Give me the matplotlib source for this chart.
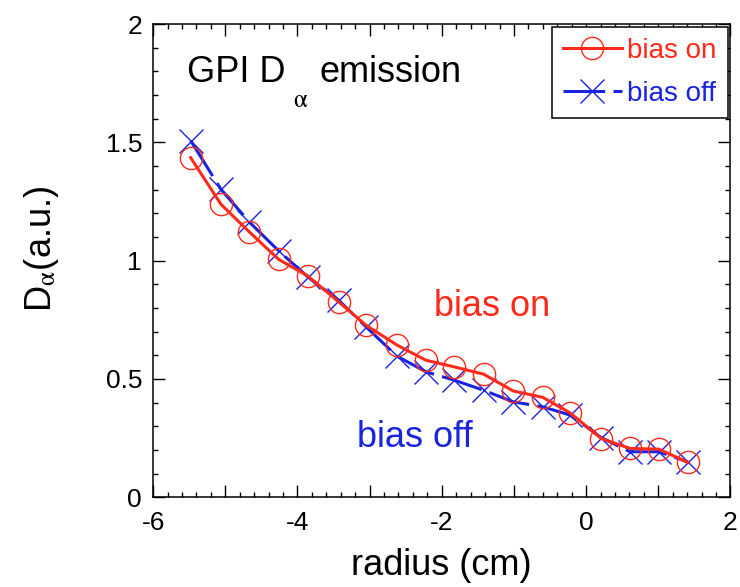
# GPI D-alpha emission, bias on vs bias off
import matplotlib
matplotlib.use("Agg")
import matplotlib.pyplot as plt
from matplotlib.ticker import MultipleLocator, FixedLocator, FixedFormatter

plt.rcParams['font.family'] = ['Liberation Sans', 'DejaVu Sans']
plt.rcParams['mathtext.fontset'] = 'stix'
plt.rcParams['lines.scale_dashes'] = False

# data
radius = [-5.48, -5.06, -4.67, -4.26, -3.86, -3.43, -3.05, -2.62, -2.22,
          -1.83, -1.42, -1.01, -0.60, -0.22, 0.21, 0.61, 1.01, 1.41]
bias_on = [1.435, 1.238, 1.122, 1.005, 0.936, 0.826, 0.727, 0.643, 0.579,
           0.551, 0.520, 0.449, 0.422, 0.356, 0.248, 0.206, 0.203, 0.147]
bias_off = [1.507, 1.301, 1.164, 1.041, 0.932, 0.833, 0.720, 0.596, 0.530,
            0.495, 0.452, 0.403, 0.382, 0.347, 0.252, 0.192, 0.192, 0.149]
xticks = [-6, -5, -4, -3, -2, -1, 0, 1, 2]
xlabels = ['-6', '', '-4', '', '-2', '', '0', '', '2']
yticks = [0, 0.5, 1, 1.5, 2]
ylabels = ['0', '0.5', '1', '1.5', '2']

red = '#ff2a1a'
blue = '#1a24e0'

fig = plt.figure(figsize=(7.4, 5.87), dpi=100)
ax = fig.add_axes([0.207, 0.153, 0.78, 0.806])

# bias off first so red sits on top
ax.plot(radius, bias_off, color=blue, lw=2.2, dashes=(30, 6),
        marker='x', ms=17, mew=1.0, mfc='none', mec=blue, label='bias off')
ax.plot(radius, bias_on, color=red, lw=2.2,
        marker='o', ms=16, mew=1.0, mfc='none', mec=red, label='bias on')

ax.set_xlim(-6, 2)
ax.set_ylim(0, 2)
ax.xaxis.set_major_locator(FixedLocator(xticks))
ax.xaxis.set_major_formatter(FixedFormatter(xlabels))
ax.xaxis.set_minor_locator(MultipleLocator(0.2))
ax.yaxis.set_major_locator(FixedLocator(yticks))
ax.yaxis.set_major_formatter(FixedFormatter(ylabels))
ax.yaxis.set_minor_locator(MultipleLocator(0.1))
ax.tick_params(which='both', direction='in', top=True, right=True, width=1)
ax.tick_params(which='major', length=8.3, labelsize=19)
ax.tick_params(axis='x', which='major', pad=10)
ax.tick_params(axis='y', which='major', pad=8)
ax.tick_params(which='minor', length=3.9)
for s in ax.spines.values():
    s.set_linewidth(1.1)

ax.set_xlabel('radius (cm)', fontsize=26, labelpad=9)
ax.set_ylabel(r'D$_{\mathrm{\alpha}}$(a.u.)', fontsize=26)
ax.yaxis.set_label_coords(-0.16, 0.524)

# in-plot annotations
ax.text(0.059, 0.877, 'GPI D', transform=ax.transAxes, fontsize=26, va='baseline')
ax.text(0.242, 0.839, r'$\mathrm{\alpha}$', transform=ax.transAxes, fontsize=18, va='center')
ax.text(0.289, 0.877, 'emission', transform=ax.transAxes, fontsize=26, va='baseline')
ax.text(0.588, 0.383, 'bias on', transform=ax.transAxes, fontsize=26,
        color=red, ha='center', va='baseline')
ax.text(0.454, 0.106, 'bias off', transform=ax.transAxes, fontsize=26,
        color=blue, ha='center', va='baseline')

h, l = ax.get_legend_handles_labels()
leg = ax.legend(h[::-1], l[::-1], loc='upper right', bbox_to_anchor=(1, 1),
                borderaxespad=0.1, fontsize=20, numpoints=1, handlelength=2.1,
                handletextpad=0.2, labelspacing=0.6, borderpad=0.4,
                fancybox=False, framealpha=1, edgecolor='black',
                labelcolor='linecolor')
leg.get_frame().set_linewidth(1.1)

fig.savefig('out.png', dpi=100)
